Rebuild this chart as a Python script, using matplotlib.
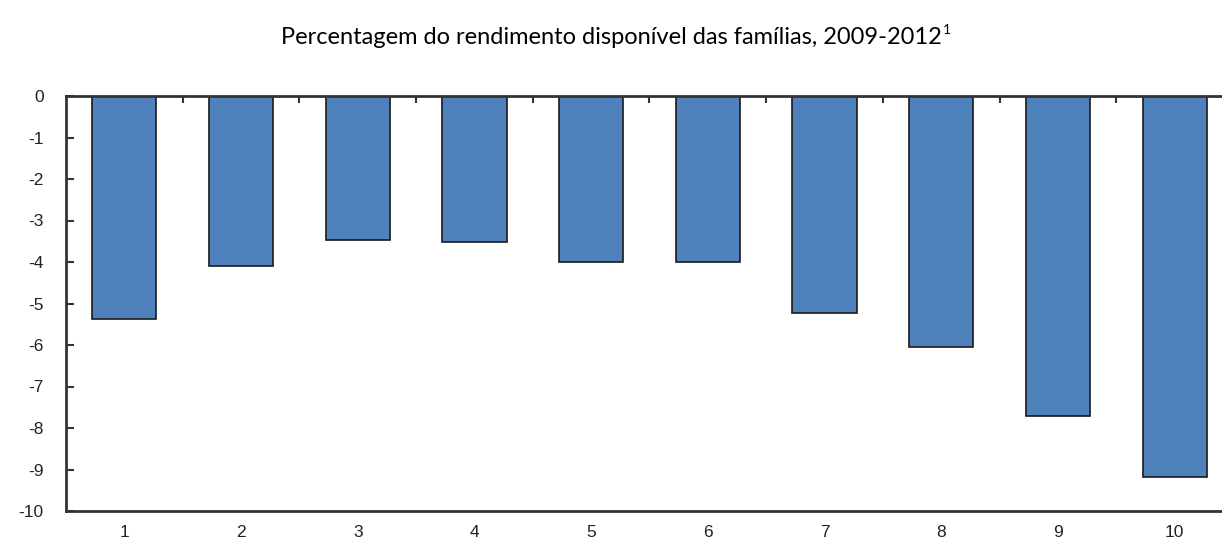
import numpy as np
import matplotlib
matplotlib.use("Agg")
import matplotlib.pyplot as plt

# dados
decis = [1, 2, 3, 4, 5, 6, 7, 8, 9, 10]
valores = [-5.37, -4.10, -3.47, -3.52, -4.00, -4.00, -5.22, -6.04, -7.71, -9.17]
y_ticks = [0, -1, -2, -3, -4, -5, -6, -7, -8, -9, -10]
titulo = "Percentagem do rendimento disponível das famílias, 2009-2012"

fig = plt.figure(figsize=(12.22, 5.47), dpi=100)
ax = fig.add_axes([66 / 1222, 1 - 511 / 547, 1 - 66 / 1222, 415 / 547])

ax.bar(decis, valores, width=0.55, color="#4F81BD", edgecolor="#1a1a1a", linewidth=1.2)

ax.set_ylim(-10, 0)
ax.set_xlim(0.5, 10.406)
ax.set_yticks(y_ticks)
ax.set_yticklabels([str(v) for v in y_ticks], fontsize=12.5, family="Liberation Sans", color="#222222")

# rótulos em baixo, marcas no topo entre as barras
ax.set_xticks(decis)
ax.set_xticklabels([str(d) for d in decis], fontsize=12.5, family="Liberation Sans", color="#222222")
ax.tick_params(axis="x", which="major", length=0, pad=10)
ax.set_xticks(np.arange(1.5, 10.5, 1.0), minor=True)
ax.tick_params(axis="x", which="minor", top=True, bottom=False, direction="in", length=5, width=1.5, color="#333333")
ax.tick_params(axis="y", direction="in", length=6, width=1.5, color="#333333", pad=16)

for s in ["top", "bottom", "left"]:
    ax.spines[s].set_linewidth(2)
    ax.spines[s].set_color("#333333")
ax.spines["right"].set_visible(False)

t = fig.text(0.5, 1 - 37 / 547, titulo, ha="center", va="center", fontsize=17, family="Lato")
fig.canvas.draw()
bb = t.get_window_extent()
fig.text((bb.x1 + 1) / 1222, (bb.y1 + 3) / 547, "1", ha="left", va="top", fontsize=10, family="Lato")

fig.savefig("out.png", dpi=100)
